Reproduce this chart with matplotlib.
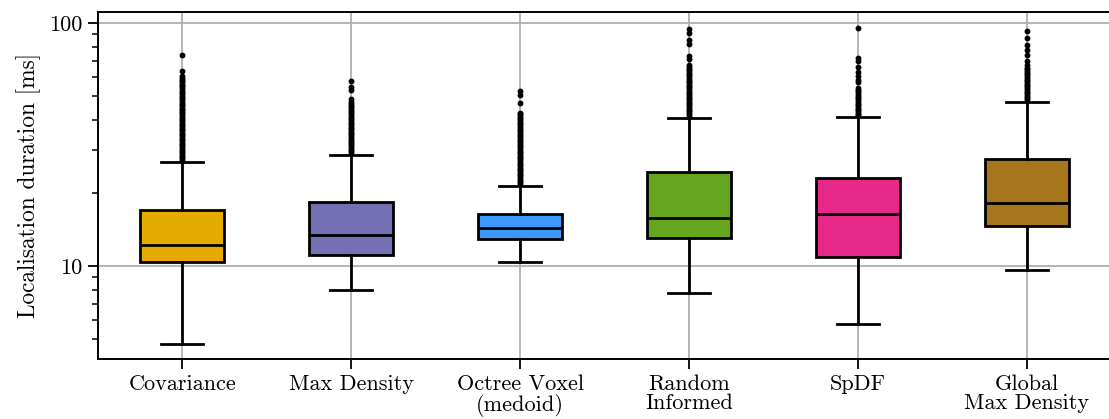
import matplotlib
matplotlib.use("Agg")
import matplotlib.pyplot as plt
from matplotlib.ticker import FixedLocator, FixedFormatter, NullFormatter

plt.rcParams["font.family"] = ["cmr10", "DejaVu Serif"]
plt.rcParams["mathtext.fontset"] = "cm"
plt.rcParams["axes.formatter.use_mathtext"] = True

# Localisation duration statistics per method [ms]
methods = ["Covariance", "Max Density", "Octree Voxel\n(medoid)",
           "Random\nInformed", "SpDF", "Global\nMax Density"]
colors = ["#e6ab02", "#7570b3", "#3b99fc", "#66a61e", "#e7298a", "#a6761d"]

whisker_low = [4.78, 7.98, 10.39, 7.76, 5.78, 9.6]
q1 = [10.39, 11.13, 12.92, 13.1, 10.9, 14.58]
median = [12.17, 13.38, 14.38, 15.8, 16.4, 18.2]
q3 = [16.96, 18.35, 16.4, 24.3, 22.97, 27.7]
whisker_high = [26.75, 28.74, 21.4, 40.6, 41.0, 47.4]

outliers_covariance = [27.2, 27.6, 28.1, 28.5, 29.0, 29.4, 29.9, 30.4, 30.9, 31.4,
                       31.9, 32.4, 32.9, 33.4, 34.0, 34.5, 35.1, 35.6, 36.2, 36.8,
                       37.4, 38.0, 38.6, 39.2, 39.8, 40.5, 41.1, 41.8, 42.5, 43.1,
                       43.8, 44.5, 45.3, 46.0, 46.7, 47.5, 48.3, 49.0, 49.8, 50.6,
                       51.5, 52.3, 53.1, 54.0, 54.9, 55.8, 56.7, 57.6, 58.5, 59.5,
                       60.6, 63.8, 74.0]
outliers_max_density = [29.2, 29.7, 30.2, 30.7, 31.2, 31.7, 32.2, 32.7, 33.2, 33.8,
                        34.3, 34.9, 35.4, 36.0, 36.6, 37.2, 37.8, 38.4, 39.0, 39.6,
                        40.3, 40.9, 41.6, 42.3, 43.0, 43.7, 44.4, 45.1, 45.8, 46.5,
                        47.2, 48.8, 52.9, 54.6, 57.7]
outliers_octree = [21.8, 22.2, 22.5, 22.9, 23.3, 23.6, 24.0, 24.4, 24.8, 25.2,
                   25.6, 26.0, 26.4, 26.9, 27.3, 27.8, 28.2, 28.7, 29.1, 29.6,
                   30.1, 30.6, 31.1, 31.6, 32.1, 32.6, 33.1, 33.7, 34.2, 34.8,
                   35.3, 35.9, 36.5, 37.1, 37.7, 38.3, 38.9, 39.6, 40.2, 40.9,
                   41.5, 42.2, 42.6, 47.1, 50.7, 52.7]
outliers_random = [41.3, 42.0, 42.7, 43.4, 44.1, 44.8, 45.5, 46.3, 47.0, 47.8,
                   48.6, 49.4, 50.2, 51.0, 51.8, 52.7, 53.5, 54.4, 55.3, 56.2,
                   57.1, 58.1, 59.0, 60.0, 61.0, 62.0, 63.0, 64.0, 65.1, 66.2,
                   67.1, 71.5, 73.5, 82.0, 85.5, 91.5, 94.4]
outliers_spdf = [41.7, 42.4, 43.1, 43.8, 44.5, 45.2, 46.0, 46.7, 47.5, 48.3,
                 49.1, 49.9, 50.7, 51.5, 52.4, 53.2, 53.9, 57.5, 58.4, 60.6,
                 62.7, 66.3, 70.1, 71.8, 95.9]
outliers_global = [48.2, 49.0, 49.8, 50.6, 51.5, 52.3, 53.2, 54.0, 54.9, 55.8,
                   56.7, 57.7, 58.6, 59.6, 60.6, 61.6, 62.6, 63.6, 64.6, 65.6,
                   67.3, 70.1, 74.0, 77.6, 81.4, 86.7, 93.2]
outliers = [outliers_covariance, outliers_max_density, outliers_octree,
            outliers_random, outliers_spdf, outliers_global]

stats = []
for i, name in enumerate(methods):
    stats.append(dict(label=name, whislo=whisker_low[i], q1=q1[i], med=median[i],
                      q3=q3[i], whishi=whisker_high[i], fliers=outliers[i]))

fig = plt.figure(figsize=(11.09, 4.19), dpi=100)
ax = fig.add_axes([0.0881, 0.1432, 0.914, 0.8282])

lw = 2.0
bp = ax.bxp(stats, positions=range(1, 7), widths=0.5, patch_artist=True,
            boxprops=dict(linewidth=lw, edgecolor="black"),
            medianprops=dict(linewidth=lw, color="black"),
            whiskerprops=dict(linewidth=lw, color="black"),
            capprops=dict(linewidth=lw, color="black"),
            flierprops=dict(marker="o", markersize=3.2, markerfacecolor="black",
                            markeredgecolor="black", linestyle="none"),
            zorder=3)
for patch, c in zip(bp["boxes"], colors):
    patch.set_facecolor(c)

ax.set_yscale("log")
ax.set_ylim(4.14, 111.3)
ax.set_xlim(0.5, 6.5)
ax.yaxis.set_major_locator(FixedLocator([10, 100]))
ax.yaxis.set_major_formatter(FixedFormatter(["10", "100"]))
ax.yaxis.set_minor_locator(FixedLocator([5, 6, 7, 8, 9, 20, 30, 40, 50, 60, 70, 80, 90]))
ax.yaxis.set_minor_formatter(NullFormatter())

ax.set_xticks(range(1, 7))
ax.set_xticklabels(methods, linespacing=1.0)

ax.grid(True, which="major", color="#b0b0b0", linewidth=1.3, zorder=0)
ax.set_axisbelow(True)

ax.tick_params(axis="both", which="major", length=7, width=1.3, labelsize=16,
               pad=4, direction="out", color="black")
ax.tick_params(axis="y", which="minor", length=4, width=1.1)
for s in ax.spines.values():
    s.set_linewidth(1.4)

ax.set_ylabel("Localisation duration [ms]", fontsize=16.8, labelpad=6)

fig.savefig("out.png", dpi=100)
